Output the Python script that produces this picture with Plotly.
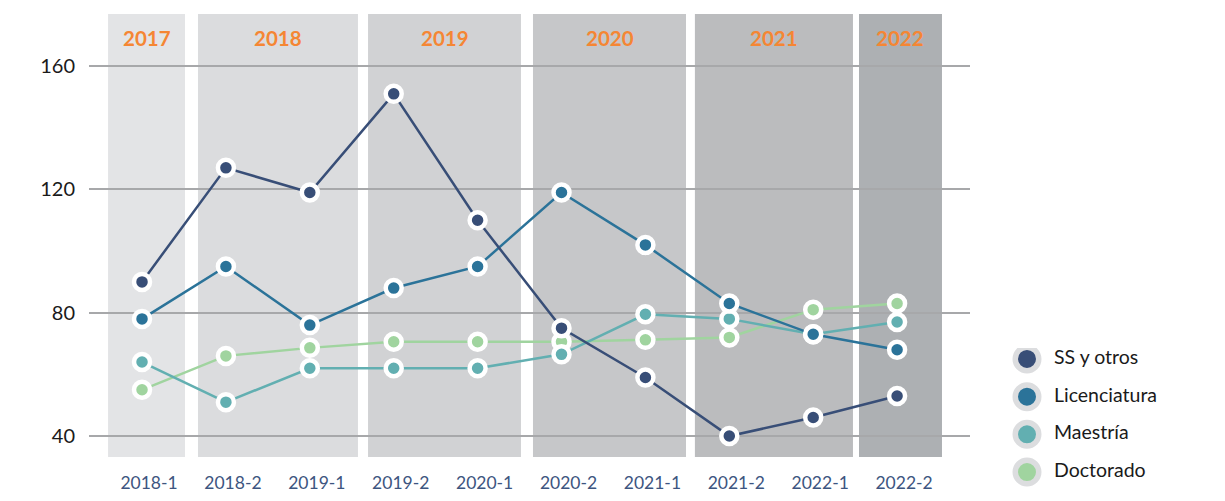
import plotly.graph_objects as go

# ---------------- data ----------------
semesters = ["2018-1", "2018-2", "2019-1", "2019-2", "2020-1",
             "2020-2", "2021-1", "2021-2", "2022-1", "2022-2"]
ss_otros = [90, 127, 119, 151, 110, 75, 59, 40, 46, 53]
licenciatura = [78, 95, 76, 88, 95, 119, 102, 83, 73, 68]
maestria = [64, 51, 62, 62, 62, 66.5, 79.5, 78, 73, 77]
doctorado = [55, 66, 68.6, 70.6, 70.6, 70.6, 71.2, 72, 81, 83]
series_names = ["SS y otros", "Licenciatura", "Maestría", "Doctorado"]
years = ["2017", "2018", "2019", "2020", "2021", "2022"]
y_ticks = [40, 80, 120, 160]

# ---------------- styling / layout ----------------
series_values = [ss_otros, licenciatura, maestria, doctorado]
colors = ["#384e77", "#2b7399", "#62afb1", "#a0d49f"]
band_colors = ["#e3e4e6", "#dbdcde", "#d1d2d4", "#c6c7c9", "#bbbcbe", "#adb0b3"]
band_edges = [(-0.405, 0.512), (0.667, 2.574), (2.694, 4.517),
              (4.66, 6.484), (6.59, 8.474), (8.546, 9.535)]
FONT = "Lato"

W, H = 1225, 501
ML, MR, MT, MB = 89, 10, 14, 10
PW, PH = W - ML - MR, H - MT - MB
plot_right = 970
plot_bottom = 457
x_dom_end = (plot_right - ML) / PW
y_dom_start = (H - MB - plot_bottom) / PH

fig = go.Figure()

# main series (drawn bottom -> top: Doctorado, Maestría, Licenciatura, SS)
for name, vals, col in reversed(list(zip(series_names, series_values, colors))):
    fig.add_trace(go.Scatter(
        x=semesters, y=vals, name=name, mode="lines+markers",
        line=dict(color=col, width=2.5),
        marker=dict(color=col, size=16, line=dict(color="white", width=4.5)),
        showlegend=False, xaxis="x", yaxis="y", cliponaxis=False,
    ))

# custom legend built from series names/colours on a hidden axis pair
fig.add_trace(go.Scatter(
    x=[0] * len(series_names), y=series_names, mode="markers",
    marker=dict(color=colors, size=23.5, line=dict(color="#dcdddf", width=5.5)),
    showlegend=False, xaxis="x2", yaxis="y2", hoverinfo="skip",
))
fig.add_trace(go.Scatter(
    x=[27] * len(series_names), y=series_names, mode="text",
    text=series_names, textposition="middle right",
    textfont=dict(family=FONT, size=19.5, color="#1a1a1a"),
    showlegend=False, xaxis="x2", yaxis="y2", hoverinfo="skip",
))

# year bands
shapes = []
annotations = []
for yr, (x0, x1), bc in zip(years, band_edges, band_colors):
    shapes.append(dict(type="rect", xref="x", yref="paper",
                       x0=x0, x1=x1, y0=y_dom_start, y1=1,
                       fillcolor=bc, line=dict(width=0), layer="below"))
    annotations.append(dict(text=f"<b>{yr}</b>", xref="x", yref="paper",
                            x=(x0 + x1) / 2, y=(H - MB - 38) / PH,
                            showarrow=False, yanchor="middle",
                            font=dict(family=FONT, size=20.5, color="#f58634")))

fig.update_layout(
    width=W, height=H,
    margin=dict(l=ML, r=MR, t=MT, b=MB),
    paper_bgcolor="white", plot_bgcolor="white",
    showlegend=False,
    shapes=shapes, annotations=annotations,
    xaxis=dict(domain=[0, x_dom_end], type="category",
               range=[-0.632, 9.869], showgrid=False, zeroline=False,
               showline=False, ticks="", automargin=False,
               tickfont=dict(family=FONT, size=17.5, color="#3d5580"),
               ticklabelshift=7, ticklabelstandoff=13),
    yaxis=dict(domain=[y_dom_start, 1], range=[33.2, 176.9],
               tickvals=y_ticks, showgrid=True, gridcolor="#a7a8aa",
               gridwidth=2, zeroline=False, showline=False, ticks="",
               automargin=False,
               tickfont=dict(family=FONT, size=20, color="#1a1a1a"),
               ticklabelstandoff=13),
    xaxis2=dict(domain=[0.8, 1.0], range=[-37.2, 188], visible=False,
                fixedrange=True),
    yaxis2=dict(domain=[0, 0.3], type="category", range=[3.501, -0.292],
                visible=False, fixedrange=True, anchor="x2"),
)
fig.update_layout(xaxis2_anchor="y2")

fig.write_html("out.html",
               config={"displayModeBar": False},
               post_script="document.body.style.margin='0';"
                           "document.body.style.padding='0';")
